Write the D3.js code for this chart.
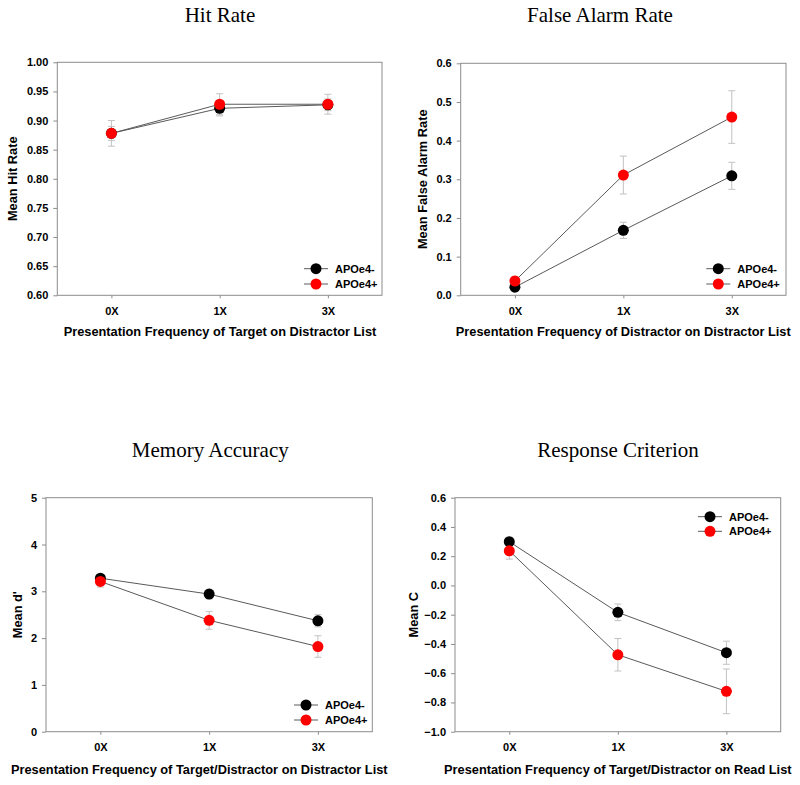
<!DOCTYPE html>
<html>
<head>
<meta charset="utf-8">
<script src="https://cdn.jsdelivr.net/npm/d3@7"></script>
<style>
  html, body { margin: 0; padding: 0; background: #fff; }
  svg { display: block; }
</style>
</head>
<body>
<svg id="chart" width="800" height="785"></svg>
<script>
// ---------- DATA ----------
const categories = ["0X", "1X", "3X"];
const seriesNames = ["APOe4-", "APOe4+"];

const hitNeg = [0.878, 0.921, 0.927];
const hitPos = [0.878, 0.928, 0.928];
const hitNegErr = [0.012, 0.013, 0.010];
const hitPosErr = [0.022, 0.018, 0.017];

const faNeg = [0.021, 0.168, 0.309];
const faPos = [0.037, 0.311, 0.461];
const faNegErr = [0.008, 0.021, 0.035];
const faPosErr = [0.012, 0.049, 0.068];

const dNeg = [3.28, 2.94, 2.37];
const dPos = [3.21, 2.38, 1.82];
const dNegErr = [0.08, 0.10, 0.13];
const dPosErr = [0.12, 0.19, 0.23];

const cNeg = [0.299, -0.184, -0.460];
const cPos = [0.237, -0.474, -0.724];
const cNegErr = [0.030, 0.057, 0.079];
const cPosErr = [0.057, 0.111, 0.153];

const hitTicks = [0.60, 0.65, 0.70, 0.75, 0.80, 0.85, 0.90, 0.95, 1.00];
const faTicks = [0.0, 0.1, 0.2, 0.3, 0.4, 0.5, 0.6];
const dTicks = [0, 1, 2, 3, 4, 5];
const cTicks = [-1.0, -0.8, -0.6, -0.4, -0.2, 0.0, 0.2, 0.4, 0.6];

const titles = ["Hit Rate", "False Alarm Rate", "Memory Accuracy", "Response Criterion"];
const yTitles = ["Mean Hit Rate", "Mean False Alarm Rate", "Mean d'", "Mean C"];
const xTitles = [
  "Presentation Frequency of Target on Distractor List",
  "Presentation Frequency of Distractor on Distractor List",
  "Presentation Frequency of Target/Distractor on Distractor List",
  "Presentation Frequency of Target/Distractor on Read List"
];

// ---------- LAYOUT ----------
const colors = ["#000000", "#ff0000"];
const panels = [
  { values: [hitNeg, hitPos], errs: [hitNegErr, hitPosErr], ticks: hitTicks, fmt: d3.format(".2f"),
    left: 57.3, right: 382, top: 62.3, bottom: 295.3,
    titleX: 220, titleY: 22, xLabX: 220, xTickY: 315, xLabY: 336, yLabX: 17.3,
    legX: 316, legY: [268.7, 284] },
  { values: [faNeg, faPos], errs: [faNegErr, faPosErr], ticks: faTicks, fmt: d3.format(".1f"),
    left: 460.7, right: 786, top: 63.3, bottom: 295.3,
    titleX: 600, titleY: 22, xLabX: 623.3, xTickY: 315, xLabY: 336, yLabX: 426.5,
    legX: 718.3, legY: [268.7, 284] },
  { values: [dNeg, dPos], errs: [dNegErr, dPosErr], ticks: dTicks, fmt: d3.format("d"),
    left: 46, right: 372.3, top: 497.7, bottom: 731.7,
    titleX: 210.3, titleY: 457, xLabX: 199.3, xTickY: 751, xLabY: 774, yLabX: 21.5,
    legX: 306, legY: [705, 720] },
  { values: [cNeg, cPos], errs: [cNegErr, cPosErr], ticks: cTicks, fmt: d3.format(".1f"),
    left: 455, right: 780.7, top: 497.7, bottom: 731.7,
    titleX: 618, titleY: 457, xLabX: 617.8, xTickY: 751, xLabY: 773.5, yLabX: 418.3,
    legX: 710, legY: [516.7, 531.3] }
];

const svg = d3.select("#chart");
const axisColor = "#8c8c8c";
const lineColor = "#5a5a5a";
const errColor = "#c2c2c2";
const R = 5.5;

panels.forEach((p, pi) => {
  const g = svg.append("g");
  const x = d3.scalePoint().domain(categories).range([p.left, p.right]).padding(0.5);
  const y = d3.scaleLinear().domain([p.ticks[0], p.ticks[p.ticks.length - 1]]).range([p.bottom, p.top]);

  // frame
  g.append("rect")
    .attr("x", p.left).attr("y", p.top)
    .attr("width", p.right - p.left).attr("height", p.bottom - p.top)
    .attr("fill", "none").attr("stroke", axisColor).attr("stroke-width", 1);

  // y axis
  const yAxis = g.append("g").attr("transform", `translate(${p.left},0)`)
    .call(d3.axisLeft(y).tickValues(p.ticks).tickFormat(p.fmt).tickSize(4).tickPadding(5));
  yAxis.select(".domain").remove();
  yAxis.selectAll("line").attr("stroke", axisColor);
  yAxis.selectAll("text").attr("fill", "#000")
    .style("font-family", "'Liberation Sans', Arial, sans-serif")
    .style("font-size", "11px").style("font-weight", "bold");

  // x axis
  const xAxis = g.append("g").attr("transform", `translate(0,${p.bottom})`)
    .call(d3.axisBottom(x).tickSize(3).tickPadding(0));
  xAxis.select(".domain").remove();
  xAxis.selectAll("line").attr("stroke", axisColor);
  xAxis.selectAll("text").attr("fill", "#000")
    .attr("y", p.xTickY - p.bottom).attr("dy", 0)
    .style("font-family", "'Liberation Sans', Arial, sans-serif")
    .style("font-size", "11px").style("font-weight", "bold");

  // titles
  g.append("text").attr("x", p.titleX).attr("y", p.titleY)
    .attr("text-anchor", "middle")
    .style("font-family", "'Liberation Serif', 'Times New Roman', serif")
    .style("font-size", "21px").text(titles[pi]);

  g.append("text").attr("x", p.xLabX).attr("y", p.xLabY)
    .attr("text-anchor", "middle")
    .style("font-family", "'Liberation Sans', Arial, sans-serif")
    .style("font-size", "12.8px").style("font-weight", "bold").text(xTitles[pi]);

  const yc = (p.top + p.bottom) / 2;
  g.append("text").attr("transform", `translate(${p.yLabX},${yc}) rotate(-90)`)
    .attr("text-anchor", "middle")
    .style("font-family", "'Liberation Sans', Arial, sans-serif")
    .style("font-size", "12.8px").style("font-weight", "bold").text(yTitles[pi]);

  // error bars
  p.values.forEach((vals, si) => {
    const errs = p.errs[si];
    const eg = g.append("g");
    categories.forEach((c, i) => {
      const cx = x(c);
      const hi = y(vals[i] + errs[i]), lo = y(vals[i] - errs[i]);
      eg.append("line").attr("x1", cx).attr("x2", cx).attr("y1", hi).attr("y2", lo)
        .attr("stroke", errColor).attr("stroke-width", 1);
      [hi, lo].forEach(yy => eg.append("line")
        .attr("x1", cx - 3.5).attr("x2", cx + 3.5).attr("y1", yy).attr("y2", yy)
        .attr("stroke", errColor).attr("stroke-width", 1));
    });
  });

  // lines and markers
  const line = d3.line().x((d, i) => x(categories[i])).y(d => y(d));
  p.values.forEach((vals, si) => {
    g.append("path").datum(vals).attr("d", line)
      .attr("fill", "none").attr("stroke", lineColor).attr("stroke-width", 1);
  });
  p.values.forEach((vals, si) => {
    g.selectAll(null).data(vals).enter().append("circle")
      .attr("cx", (d, i) => x(categories[i])).attr("cy", d => y(d))
      .attr("r", R).attr("fill", colors[si]);
  });

  // legend
  seriesNames.forEach((name, si) => {
    const ly = p.legY[si];
    g.append("line").attr("x1", p.legX - 12).attr("x2", p.legX + 12)
      .attr("y1", ly).attr("y2", ly).attr("stroke", lineColor).attr("stroke-width", 1);
    g.append("circle").attr("cx", p.legX).attr("cy", ly).attr("r", R).attr("fill", colors[si]);
    g.append("text").attr("x", p.legX + 19).attr("y", ly).attr("dy", "0.35em")
      .style("font-family", "'Liberation Sans', Arial, sans-serif")
      .style("font-size", "11px").style("font-weight", "bold").text(name);
  });
});
</script>
</body>
</html>
